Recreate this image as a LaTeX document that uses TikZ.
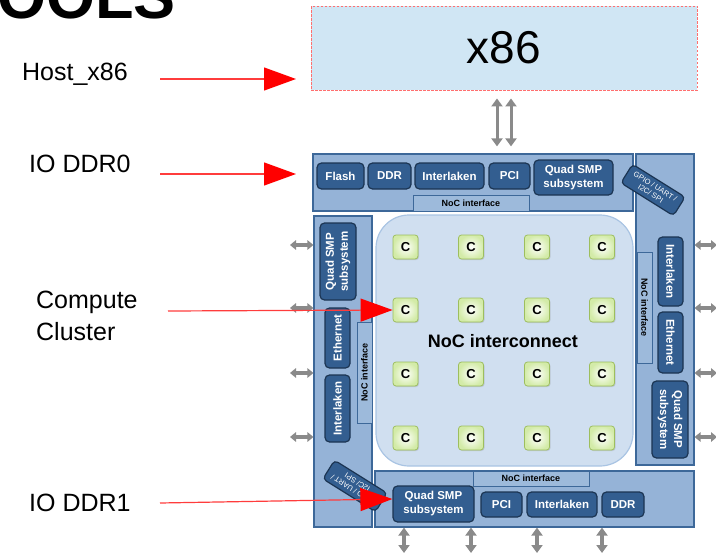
\documentclass[tikz,border=0pt]{standalone}
\usepackage{fontspec}
\setmainfont{Liberation Sans}
\usetikzlibrary{arrows.meta,shadows}
\definecolor{barfill}{HTML}{95B3D7}
\definecolor{barline}{HTML}{3D6899}
\definecolor{blkfill}{HTML}{335E90}
\definecolor{blkline}{HTML}{1B3452}
\definecolor{niffill}{HTML}{9DBADB}
\definecolor{nocfill}{HTML}{D0DFF0}
\definecolor{nocline}{HTML}{A9C4E3}
\definecolor{hostfill}{HTML}{D0E6F4}
\definecolor{hostline}{HTML}{FF6F6F}
\definecolor{corefill}{HTML}{D3EBA8}
\definecolor{coreline}{HTML}{9DBE5E}
\definecolor{linkgray}{HTML}{8A8A8A}
\definecolor{redline}{HTML}{FF3C3C}
\begin{document}
\begin{tikzpicture}[x=1pt,y=-1pt,
  bar/.style={draw=barline, fill=barfill, line width=1.2pt, inner sep=0pt},
  blk/.style={draw=blkline, fill=blkfill, line width=1.2pt, rounded corners=4.5pt,
    text=white, font=\bfseries\fontsize{11.5}{14}\selectfont, align=center, inner sep=0pt},
  nif/.style={draw=barline, fill=niffill, line width=1pt, inner sep=0pt,
    font=\bfseries\fontsize{9}{10}\selectfont},
  gpio/.style={draw=blkline, fill=blkfill, line width=1.2pt, rounded corners=4pt,
    text=white, font=\fontsize{7.5}{8.5}\selectfont, align=center, inner sep=0pt,
    minimum width=62pt, minimum height=22pt},
  core/.style={draw=coreline, line width=0.8pt, rounded corners=3pt,
    inner color=white, outer color=corefill,
    drop shadow={opacity=0.25, shadow xshift=1pt, shadow yshift=-1pt},
    minimum width=25pt, minimum height=24pt, inner sep=0pt,
    font=\bfseries\fontsize{13}{15}\selectfont},
  lbl/.style={font=\fontsize{25}{32}\selectfont, anchor=west, align=left, inner sep=0pt},
  redarr/.style={draw=redline, line width=1.2pt,
    -{Triangle[length=32pt,width=23pt,color=red]}},
  glink/.style={draw=linkgray, line width=3.2pt,
    {Triangle[length=6pt,width=9.5pt]}-{Triangle[length=6pt,width=9.5pt]}},
  gvlink/.style={draw=linkgray, line width=3.4pt,
    {Triangle[length=8pt,width=11pt]}-{Triangle[length=8pt,width=11pt]}},
]
\useasboundingbox (0,0) rectangle (716,554);

% heading, cut by the page edge
\node[font=\bfseries\fontsize{63}{70}\selectfont, anchor=base west, inner sep=0pt]
  (title) at (-3,18) {OOLS};

% host processor
\node[draw=hostline, dash pattern=on 2.5pt off 1.5pt, line width=0.9pt, fill=hostfill,
  minimum width=386pt, minimum height=84pt, inner sep=0pt,
  font=\fontsize{46}{50}\selectfont] (x86) at (504,48) {x86};

% the four I/O bars around the compute fabric
\node[bar, minimum width=320pt, minimum height=57pt] (tbar) at (473,182.5) {};
\node[bar, minimum width=58pt, minimum height=311pt] (rbar) at (665,309.5) {};
\node[bar, minimum width=58pt, minimum height=311pt] (lbar) at (343,371.5) {};
\node[bar, minimum width=319pt, minimum height=56pt] (bbar) at (534.5,499) {};

% NoC fabric
\node[draw=nocline, fill=nocfill, line width=1.2pt, rounded corners=33pt,
  minimum width=257pt, minimum height=251pt, inner sep=0pt] (noc) at (504.5,340.5) {};
\node[font=\bfseries\fontsize{18}{20}\selectfont] (noclbl) at (503,341) {NoC interconnect};

% top bar (IO DDR0)
\node[blk, minimum width=47pt, minimum height=26pt] (tflash) at (340.5,176) {Flash};
\node[blk, minimum width=43pt, minimum height=26pt] (tddr) at (389.5,176) {DDR};
\node[blk, minimum width=69pt, minimum height=26pt] (tilk) at (449.5,176) {Interlaken};
\node[blk, minimum width=41pt, minimum height=26pt] (tpci) at (509.5,176) {PCI};
\node[blk, minimum width=79pt, minimum height=35pt] (tsmp) at (573.5,177.5) {Quad SMP\\subsystem};
\node[nif, minimum width=116pt, minimum height=16pt] (tnif) at (471,203) {NoC interface};

% right bar
\node[blk, rotate=-90, minimum width=69pt, minimum height=25pt] (rilk) at (670.5,271.5) {Interlaken};
\node[blk, rotate=-90, minimum width=61pt, minimum height=25pt] (reth) at (670.5,342.5) {Ethernet};
\node[blk, rotate=-90, minimum width=77pt, minimum height=36pt] (rsmp) at (670,419.5) {Quad SMP\\subsystem};
\node[nif, rotate=-90, minimum width=111pt, minimum height=15pt] (rnif) at (644.5,307.5) {NoC interface};

% left bar
\node[blk, rotate=90, minimum width=77pt, minimum height=36pt] (lsmp) at (338,261.5) {Quad SMP\\subsystem};
\node[blk, rotate=90, minimum width=60pt, minimum height=25pt] (leth) at (337.5,338) {Ethernet};
\node[blk, rotate=90, minimum width=67pt, minimum height=25pt] (lilk) at (337.5,408.5) {Interlaken};
\node[nif, rotate=90, minimum width=101pt, minimum height=15pt] (lnif) at (364.5,372.5) {NoC interface};

% bottom bar (IO DDR1)
\node[nif, minimum width=116pt, minimum height=15pt] (bnif) at (531,478.5) {NoC interface};
\node[blk, minimum width=81pt, minimum height=36pt] (bsmp) at (433.5,504) {Quad SMP\\subsystem};
\node[blk, minimum width=41pt, minimum height=25pt] (bpci) at (501.5,504.5) {PCI};
\node[blk, minimum width=70pt, minimum height=25pt] (bilk) at (562,504.5) {Interlaken};
\node[blk, minimum width=42pt, minimum height=25pt] (bddr) at (623,504.5) {DDR};

% low-speed peripherals on the corners
\node[gpio, rotate=-32] (gpiotr) at (653,190) {GPIO / UART /\\I2C/ SPI};
\node[gpio, rotate=148] (gpiobl) at (355,486) {GPIO / UART /\\I2C/ SPI};

% compute clusters
\foreach \c/\x in {1/405.5,2/471,3/537,4/602}
  \foreach \r/\y in {1/247,2/310,3/374,4/438}
    \node[core] (c\r\c) at (\x,\y) {C};

% host link
\draw[gvlink, line width=3pt, shorten <=8pt, shorten >=7pt] ([xshift=-7pt]x86.south) -- ([xshift=-7pt]x86.south |- tbar.north);
\draw[gvlink, line width=3pt, shorten <=8pt, shorten >=7pt] ([xshift=7pt]x86.south) -- ([xshift=7pt]x86.south |- tbar.north);

% external links, left and right
\foreach \i/\y in {1/245,2/308,3/373,4/437}{
  \coordinate (lx\i) at (290,\y);
  \coordinate (rx\i) at (717,\y);
  \draw[glink] (lx\i) -- (lx\i -| lbar.west);
  \draw[glink] (rx\i -| rbar.east) -- (rx\i);
}
% external links, bottom
\foreach \i/\x in {1/404,2/471,3/537,4/602}{
  \coordinate (bx\i) at (\x,553);
  \draw[gvlink] (bx\i |- bbar.south) -- (bx\i);
}

% callouts
\node[lbl] (hostlbl) at (22,74) {Host\_x86};
\node[lbl] (ddr0lbl) at (29,164) {IO DDR0};
\node[lbl] (cclbl) at (36,316) {Compute\\Cluster};
\node[lbl] (ddr1lbl) at (29,503) {IO DDR1};

\coordinate (hostS) at (160,79);
\coordinate (hostT) at (296,79);
\coordinate (ddr0S) at (160,174);
\coordinate (ddr0T) at (296,174);
\coordinate (ccS) at (168,311);
\coordinate (ddr1S) at (160,503);

\draw[redarr] (hostS) -- (hostT);
\draw[redarr] (ddr0S) -- (ddr0T);
\draw[redarr] (ccS) -- (c21.west);
\draw[redarr] (ddr1S) -- ([yshift=5pt]bsmp.west);
\end{tikzpicture}
\end{document}
